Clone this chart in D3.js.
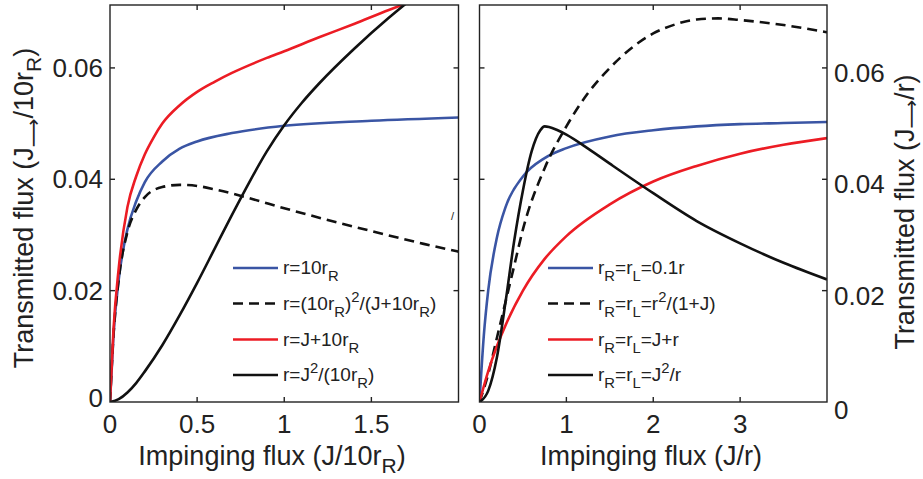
<!DOCTYPE html>
<html><head><meta charset="utf-8">
<script src="https://cdn.jsdelivr.net/npm/d3@7/dist/d3.min.js"></script>
<style>body{margin:0;background:#fff}svg{display:block}text{font-family:"Liberation Sans",Arial,sans-serif;fill:#222}</style>
</head><body><svg id="c" width="923" height="479"></svg>
<script>
// ---- data ----
const leftBlueX  = [0,0.02,0.05,0.1,0.15,0.2,0.3,0.4,0.5,0.7,1.0,1.5,2.0];
const leftBlueY  = [0,0.012,0.022,0.031,0.036,0.0395,0.0432,0.0455,0.0468,0.0483,0.0496,0.0505,0.0511];
const leftDashX  = [0,0.02,0.05,0.1,0.15,0.2,0.3,0.4,0.5,0.6,0.8,1.0,1.2,1.5,1.8,2.0];
const leftDashY  = [0,0.012,0.022,0.0305,0.0345,0.0368,0.0386,0.039,0.0388,0.0382,0.0366,0.0348,0.0331,0.0307,0.0284,0.027];
const leftRedX   = [0,0.02,0.05,0.1,0.15,0.2,0.25,0.3,0.4,0.5,0.6,0.7,0.8,0.9,1.0,1.2,1.4,1.6,1.7];
const leftRedY   = [0,0.013,0.024,0.035,0.0405,0.0445,0.0475,0.05,0.0533,0.0557,0.0575,0.0591,0.0605,0.0618,0.063,0.0655,0.0679,0.0704,0.0716];
const leftBlackX = [0,0.05,0.1,0.15,0.2,0.3,0.4,0.5,0.6,0.7,0.8,0.9,1.0,1.1,1.2,1.4,1.6,1.7];
const leftBlackY = [0,0.0005,0.0017,0.0034,0.0055,0.0102,0.0156,0.0214,0.0275,0.0336,0.0395,0.045,0.0497,0.0537,0.0572,0.0634,0.069,0.0716];

const rightBlueX  = [0,0.05,0.1,0.2,0.3,0.5,0.75,1,1.5,2,2.5,3,3.5,4];
const rightBlueY  = [0,0.012,0.02,0.0295,0.035,0.0405,0.0438,0.0456,0.0477,0.0488,0.0495,0.0499,0.0501,0.0503];
const rightDashX  = [0,0.1,0.2,0.3,0.4,0.5,0.75,1,1.25,1.5,2,2.25,2.5,2.75,3,3.5,4];
const rightDashY  = [0,0.005,0.0115,0.018,0.0245,0.031,0.042,0.0495,0.0555,0.06,0.0662,0.0678,0.0687,0.0689,0.0686,0.0677,0.0664];
const rightRedX   = [0,0.1,0.2,0.3,0.5,0.75,1,1.5,2,2.5,3,3.5,4];
const rightRedY   = [0,0.0055,0.01,0.0138,0.02,0.0257,0.0298,0.0355,0.0396,0.0424,0.0446,0.0462,0.0474];
const rightBlackX = [0,0.1,0.2,0.3,0.4,0.5,0.6,0.7,0.75,0.8,0.9,1.0,1.25,1.5,2,2.5,3,3.5,4];
const rightBlackY = [0,0.002,0.008,0.018,0.029,0.038,0.045,0.0488,0.0495,0.0494,0.0488,0.048,0.0455,0.0428,0.0375,0.0325,0.0285,0.025,0.022];

const leftLegend  = ["r=10r_{R}","r=(10r_{R})^{2}/(J+10r_{R})","r=J+10r_{R}","r=J^{2}/(10r_{R})"];
const rightLegend = ["r_{R}=r_{L}=0.1r","r_{R}=r_{L}=r^{2}/(1+J)","r_{R}=r_{L}=J+r","r_{R}=r_{L}=J^{2}/r"];

const yTicks = [0,0.02,0.04,0.06];
const yTickLabels = ["0","0.02","0.04","0.06"];
const leftXTicks = [0,0.5,1,1.5];
const leftXTickLabels = ["0","0.5","1","1.5"];
const rightXTicks = [0,1,2,3];
const rightXTickLabels = ["0","1","2","3"];

const BLUE="#3a55a4", RED="#ec1c24", BLACK="#111";
const styles = [{c:BLUE,d:null},{c:BLACK,d:"10,6"},{c:RED,d:null},{c:BLACK,d:null}];

// ---- drawing ----
const svg = d3.select("#c");
const y = d3.scaleLinear().domain([0,0.0713]).range([402,5]);
const xl = d3.scaleLinear().domain([0,2]).range([110,458.5]);
const xr = d3.scaleLinear().domain([0,4]).range([479.5,827]);

function rich(sel, str, size){
  const re = /([_^])\{([^}]*)\}|([^_^]+)/g; let m, shift=0;
  while((m=re.exec(str))){
    if(m[3]!==undefined){ sel.append("tspan").attr("dy",-shift).attr("font-size",size).text(m[3]); shift=0; }
    else { const s = m[1]==="_" ? size*0.38 : -size*0.42;
      sel.append("tspan").attr("dy",s-shift).attr("font-size",size*0.78).text(m[2]); shift=s; }
  }
}

function panel(id, x, series, ticksX, ticksXL, legend, legX, yLabelsRight){
  const [x0,x1] = x.range(), [yb,yt] = y.range();
  svg.append("clipPath").attr("id",id).append("rect").attr("x",x0).attr("y",yt).attr("width",x1-x0).attr("height",yb-yt);
  const g = svg.append("g").attr("clip-path",`url(#${id})`);
  series.forEach((s,i)=>{
    const pts = s[0].map((v,j)=>[v,s[1][j]]);
    g.append("path").attr("d", d3.line().x(d=>x(d[0])).y(d=>y(d[1])).curve(d3.curveMonotoneX)(pts))
      .attr("fill","none").attr("stroke",styles[i].c).attr("stroke-width",2.6)
      .attr("stroke-dasharray",styles[i].d);
  });
  const ax = svg.append("g").attr("stroke","#222").attr("stroke-width",1.4);
  ax.append("rect").attr("x",x0).attr("y",yt).attr("width",x1-x0).attr("height",yb-yt).attr("fill","none");
  const tl=5;
  yTicks.forEach(v=>{ if(v===0) return;
    ax.append("line").attr("x1",x0).attr("x2",x0+tl).attr("y1",y(v)).attr("y2",y(v));
    ax.append("line").attr("x1",x1).attr("x2",x1-tl).attr("y1",y(v)).attr("y2",y(v));
  });
  ticksX.forEach(v=>{ if(v===0) return;
    ax.append("line").attr("x1",x(v)).attr("x2",x(v)).attr("y1",yb).attr("y2",yb-tl);
    ax.append("line").attr("x1",x(v)).attr("x2",x(v)).attr("y1",yt).attr("y2",yt+tl);
  });
  ticksX.forEach((v,i)=>{
    svg.append("text").attr("x",x(v)).attr("y",433).attr("text-anchor","middle").attr("font-size",26).text(ticksXL[i]);
  });
  yTicks.forEach((v,i)=>{
    if(yLabelsRight){
      svg.append("text").attr("x",x1+7).attr("y",y(v)+(v===0?17:14)).attr("font-size",26).text(yTickLabels[i]);
    } else {
      svg.append("text").attr("x",x0-7).attr("y",y(v)+(v===0?5:9)).attr("text-anchor","end").attr("font-size",26).text(yTickLabels[i]);
    }
  });
  const rows=[268,303.5,339.5,375];
  legend.forEach((t,i)=>{
    svg.append("line").attr("x1",legX).attr("x2",legX+45).attr("y1",rows[i]).attr("y2",rows[i])
      .attr("stroke",styles[i].c).attr("stroke-width",2.6).attr("stroke-dasharray",styles[i].d);
    rich(svg.append("text").attr("x",legX+50).attr("y",rows[i]+6), t, 19);
  });
}

panel("cl", xl, [[leftBlueX,leftBlueY],[leftDashX,leftDashY],[leftRedX,leftRedY],[leftBlackX,leftBlackY]],
  leftXTicks, leftXTickLabels, leftLegend, 233, false);
panel("cr", xr, [[rightBlueX,rightBlueY],[rightDashX,rightDashY],[rightRedX,rightRedY],[rightBlackX,rightBlackY]],
  rightXTicks, rightXTickLabels, rightLegend, 548, true);

// axis titles
function titleY(xpos, ypos, tail, adj){
  const t = svg.append("text").attr("transform",`translate(${xpos},${ypos}) rotate(-90)`).attr("text-anchor","middle").attr("font-size",27);
  t.append("tspan").text("Transmitted flux (J");
  t.append("tspan").attr("dy",adj).attr("font-size",20).attr("font-family","DejaVu Sans").text("\u27F6");
  t.append("tspan").attr("dy",-adj).text(tail[0]);
  if(tail[1]){ t.append("tspan").attr("dy",8).attr("font-size",21).text(tail[1]); t.append("tspan").attr("dy",-8).text(tail[2]); }
}
titleY(33, 208, ["/10r","R",")"], 7);
titleY(914, 212, ["/r)"], 4);

const xt1 = svg.append("text").attr("x",272).attr("y",465).attr("text-anchor","middle").attr("font-size",27);
xt1.append("tspan").text("Impinging flux (J/10r");
xt1.append("tspan").attr("dy",8).attr("font-size",21).text("R");
xt1.append("tspan").attr("dy",-8).text(")");
svg.append("text").attr("x",651).attr("y",465).attr("text-anchor","middle").attr("font-size",27).text("Impinging flux (J/r)");

// small stray mark present in the reference
svg.append("text").attr("x",451).attr("y",220).attr("font-size",11).attr("fill","#555").text("/");
</script></body></html>
